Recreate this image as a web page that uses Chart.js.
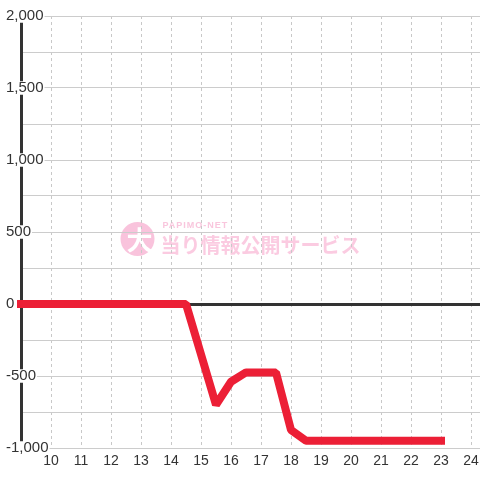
<!DOCTYPE html>
<html>
<head>
<meta charset="utf-8">
<script src="https://cdn.jsdelivr.net/npm/chart.js@4/dist/chart.umd.min.js"></script>
<style>
    html, body { margin: 0; padding: 0; background: #fff; }
    canvas { display: block; }
</style>
</head>
<body>
<canvas id="slumpChart" width="480" height="480"></canvas>
<script>
// Time of day (hours) and balance at each point
const hours = [
    9, 9.5, 10, 10.5, 11, 11.5, 12, 12.5, 13, 13.5, 14, 14.5,
    15, 15.5, 16, 16.5, 17, 17.5, 18, 18.5,
    19, 19.5, 20, 20.5, 21, 21.5, 22, 22.5, 23
];
const balance = [
    0, 0, 0, 0, 0, 0, 0, 0, 0, 0, 0, 0,
    -350, -700, -540, -475, -475, -475, -875, -950,
    -950, -950, -950, -950, -950, -950, -950, -950, -950
];
const hourTicks = [10, 11, 12, 13, 14, 15, 16, 17, 18, 19, 20, 21, 22, 23, 24];
const labelledValues = [2000, 1500, 1000, 500, 0, -500, -1000];

const FONT = 'Liberation Sans, Arial, sans-serif';

// white background + pale watermark behind the grid
const backgroundPlugin = {
    id: 'background',
    beforeDraw(chart) {
        const ctx = chart.ctx;
        ctx.save();
        ctx.fillStyle = '#ffffff';
        ctx.fillRect(0, 0, chart.width, chart.height);

        const a = chart.chartArea;
        const cx = (a.left + a.right) / 2;
        const cy = (a.top + a.bottom) / 2;

        ctx.fillStyle = '#f9c3dc';
        ctx.beginPath();
        ctx.arc(cx - 113, cy + 7, 17, 0, Math.PI * 2);
        ctx.fill();

        ctx.fillStyle = '#ffffff';
        ctx.font = 'bold 26px "Noto Sans CJK JP"';
        ctx.textAlign = 'center';
        ctx.textBaseline = 'middle';
        ctx.fillText('大', cx - 111, cy + 8);

        ctx.fillStyle = '#f9c6dd';
        ctx.textAlign = 'left';
        ctx.font = 'bold 9px ' + FONT;
        ctx.letterSpacing = '1px';
        ctx.fillText('PAPIMO-NET', cx - 88, cy - 6);
        ctx.letterSpacing = '0px';
        ctx.fillStyle = '#fbcbe1';
        ctx.font = 'bold 20px "Noto Sans CJK JP"';
        ctx.fillText('当り情報公開サービス', cx - 90, cy + 13);
        ctx.restore();
    }
};

new Chart(document.getElementById('slumpChart'), {
    type: 'line',
    data: {
        datasets: [
            {
                data: hours.map((h, i) => ({ x: h, y: balance[i] })),
                borderColor: '#ec1f36',
                borderWidth: 8,
                borderCapStyle: 'square',
                borderJoinStyle: 'bevel',
                pointRadius: 0,
                tension: 0,
                fill: false,
                clip: false
            }
        ]
    },
    options: {
        responsive: false,
        animation: false,
        devicePixelRatio: 1,
        layout: {
            padding: { top: 16, left: 0, right: 0, bottom: 0 }
        },
        plugins: {
            legend: { display: false },
            tooltip: { enabled: false }
        },
        scales: {
            x: {
                type: 'linear',
                min: 9,
                max: 24.3,
                afterBuildTicks: (scale) => {
                    scale.ticks = hourTicks.map((v) => ({ value: v }));
                },
                afterFit: (scale) => {
                    scale.height = 32;
                    scale.paddingLeft = 0;
                    scale.paddingRight = 0;
                },
                grid: {
                    color: '#c8c8c8',
                    lineWidth: 1,
                    drawTicks: false
                },
                border: {
                    display: false,
                    dash: [3, 3]
                },
                ticks: {
                    color: '#333',
                    padding: 5,
                    maxRotation: 0,
                    autoSkip: false,
                    font: { family: FONT, size: 14 }
                }
            },
            y: {
                min: -1000,
                max: 2000,
                afterFit: (scale) => {
                    scale.width = 21;
                },
                grid: {
                    color: (c) => (c.tick && c.tick.value === 0 ? '#333' : '#cccccc'),
                    lineWidth: (c) => (c.tick && c.tick.value === 0 ? 3 : 1),
                    drawTicks: false
                },
                border: {
                    display: true,
                    color: '#333',
                    width: 3
                },
                ticks: {
                    stepSize: 250,
                    mirror: true,
                    crossAlign: 'near',
                    padding: -15,
                    color: '#333',
                    showLabelBackdrop: true,
                    backdropColor: '#ffffff',
                    backdropPadding: { left: 1, right: 1, top: 0, bottom: 0 },
                    font: { family: FONT, size: 15, lineHeight: 0.9 },
                    callback: (v) => (labelledValues.includes(v) ? v.toLocaleString('en-US') : '')
                }
            }
        }
    },
    plugins: [backgroundPlugin]
});
</script>
</body>
</html>
